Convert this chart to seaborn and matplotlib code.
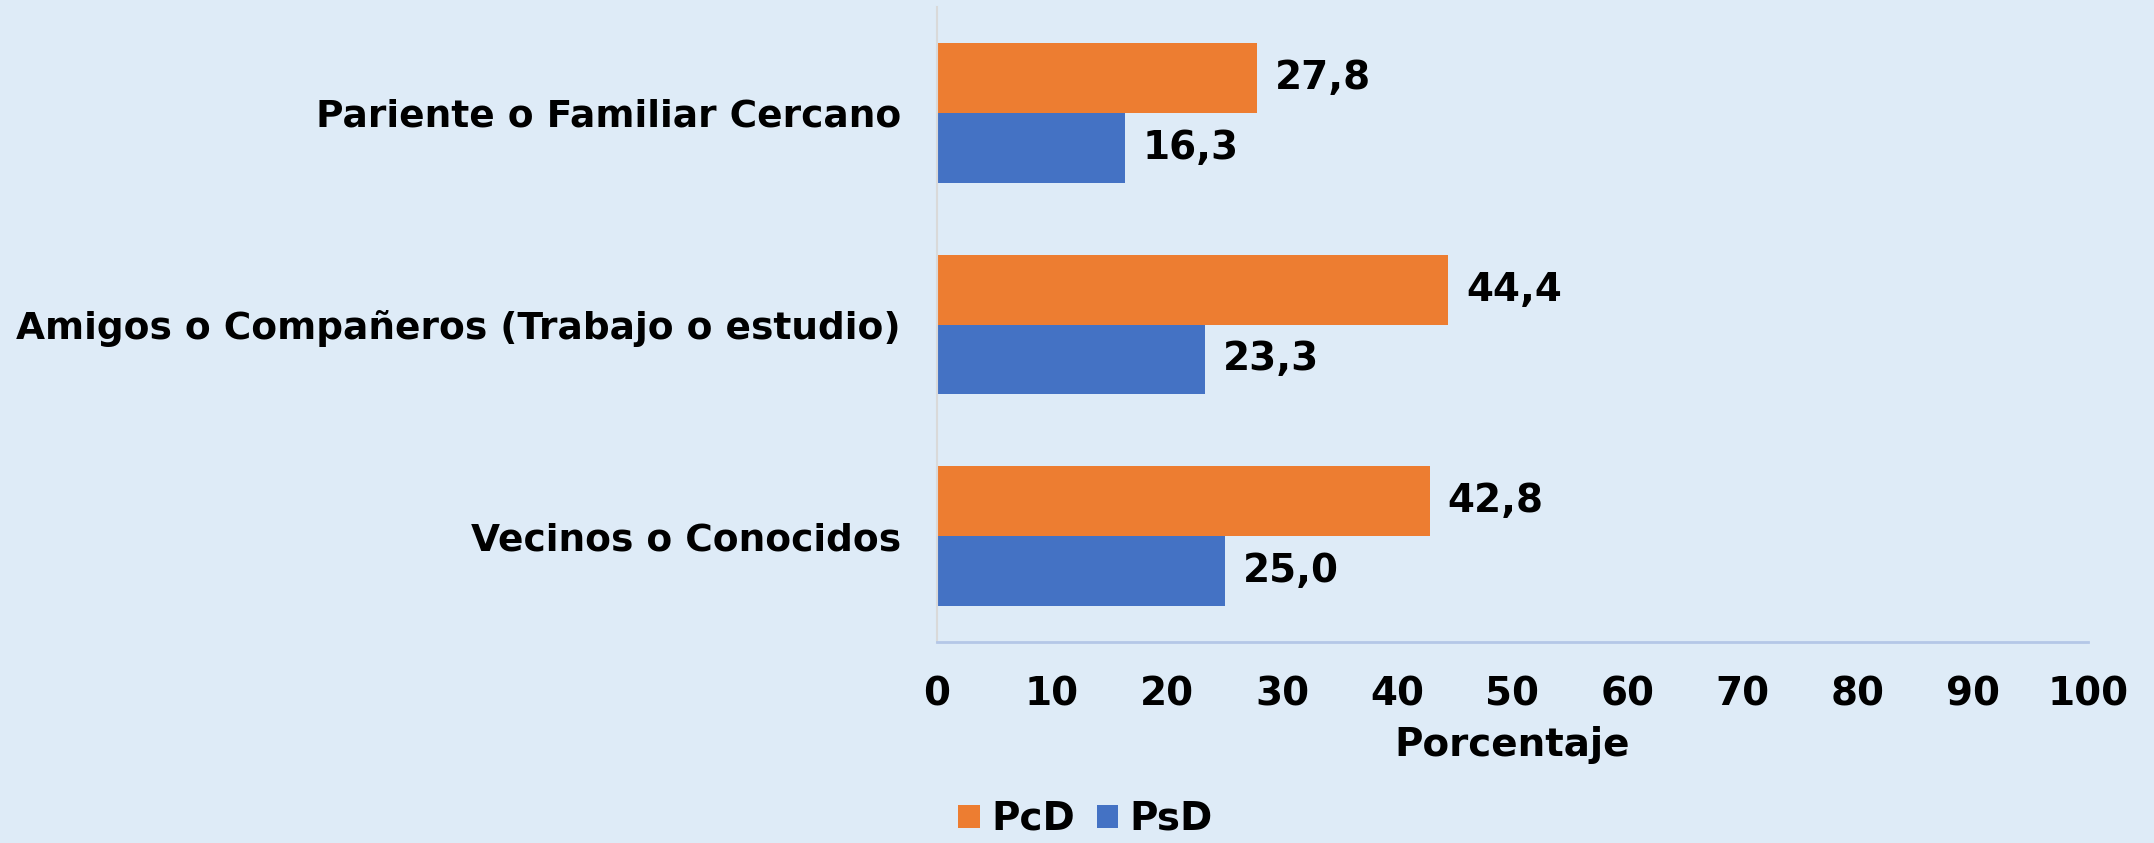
import matplotlib
matplotlib.use("Agg")
import matplotlib.pyplot as plt
import seaborn as sns
import pandas as pd
from matplotlib.patches import Patch

categories = ["Pariente o Familiar Cercano",
              "Amigos o Compañeros (Trabajo o estudio)",
              "Vecinos o Conocidos"]
series_names = ["PcD", "PsD"]
pcd_values = [27.8, 44.4, 42.8]
psd_values = [16.3, 23.3, 25.0]
x_ticks = [0, 10, 20, 30, 40, 50, 60, 70, 80, 90, 100]
x_label = "Porcentaje"

colors = {"PcD": "#ED7D31", "PsD": "#4472C4"}
bg = "#DEEBF7"

df = pd.DataFrame({
    "cat": categories * 2,
    "serie": [series_names[0]] * 3 + [series_names[1]] * 3,
    "val": pcd_values + psd_values,
})

sns.set_style("white")
plt.rcParams["font.family"] = ["DejaVu Sans"]
plt.rcParams["font.weight"] = "bold"
plt.rcParams["text.color"] = "black"
plt.rcParams["axes.labelcolor"] = "black"
plt.rcParams["xtick.color"] = "black"
plt.rcParams["ytick.color"] = "black"

fig = plt.figure(figsize=(21.54, 8.43), dpi=100, facecolor=bg)
ax = fig.add_axes([937/2154, 1-642/843, (2088-937)/2154, (642-7)/843])
ax.set_facecolor(bg)

sns.barplot(data=df, y="cat", x="val", hue="serie", order=categories,
            hue_order=series_names, palette=colors, orient="h",
            width=0.66, ax=ax, legend=False, saturation=1, edgecolor="none")

for cont in ax.containers:
    ax.bar_label(cont, labels=[f"{v:.1f}".replace(".", ",") for v in cont.datavalues],
                 padding=13, fontsize=28, fontweight="bold", color="black")

ax.set_xlim(0, 100)
ax.set_ylim(2.5, -0.5)
ax.set_xticks(x_ticks)
ax.set_xticklabels([str(t) for t in x_ticks], fontsize=28, fontweight="bold", color="black")
ax.set_yticks(range(len(categories)))
ax.set_yticklabels(categories, fontsize=27, fontweight="bold", color="black")
ax.tick_params(axis="x", length=0, pad=24)
ax.tick_params(axis="y", length=0, pad=26)
ax.set_xlabel(x_label, fontsize=28, fontweight="bold", labelpad=9, color="black")
ax.set_ylabel("")

for s in ["top", "right"]:
    ax.spines[s].set_visible(False)
ax.spines["left"].set_color("#D9D9D9")
ax.spines["left"].set_linewidth(1.5)
ax.spines["bottom"].set_color("#B4C7E7")
ax.spines["bottom"].set_linewidth(2)

handles = [Patch(facecolor=colors[n], edgecolor="none") for n in series_names]
leg = fig.legend(handles, series_names, loc="upper center", bbox_to_anchor=(0.504, 1-800/843),
                 ncol=2, frameon=False, prop={"weight": "bold", "size": 28},
                 handlelength=0.55, handleheight=0.55, handletextpad=0.3,
                 columnspacing=0.55, borderpad=0, borderaxespad=0)
for t in leg.get_texts():
    t.set_color("black")

fig.savefig("out.png", dpi=100, facecolor=bg)
